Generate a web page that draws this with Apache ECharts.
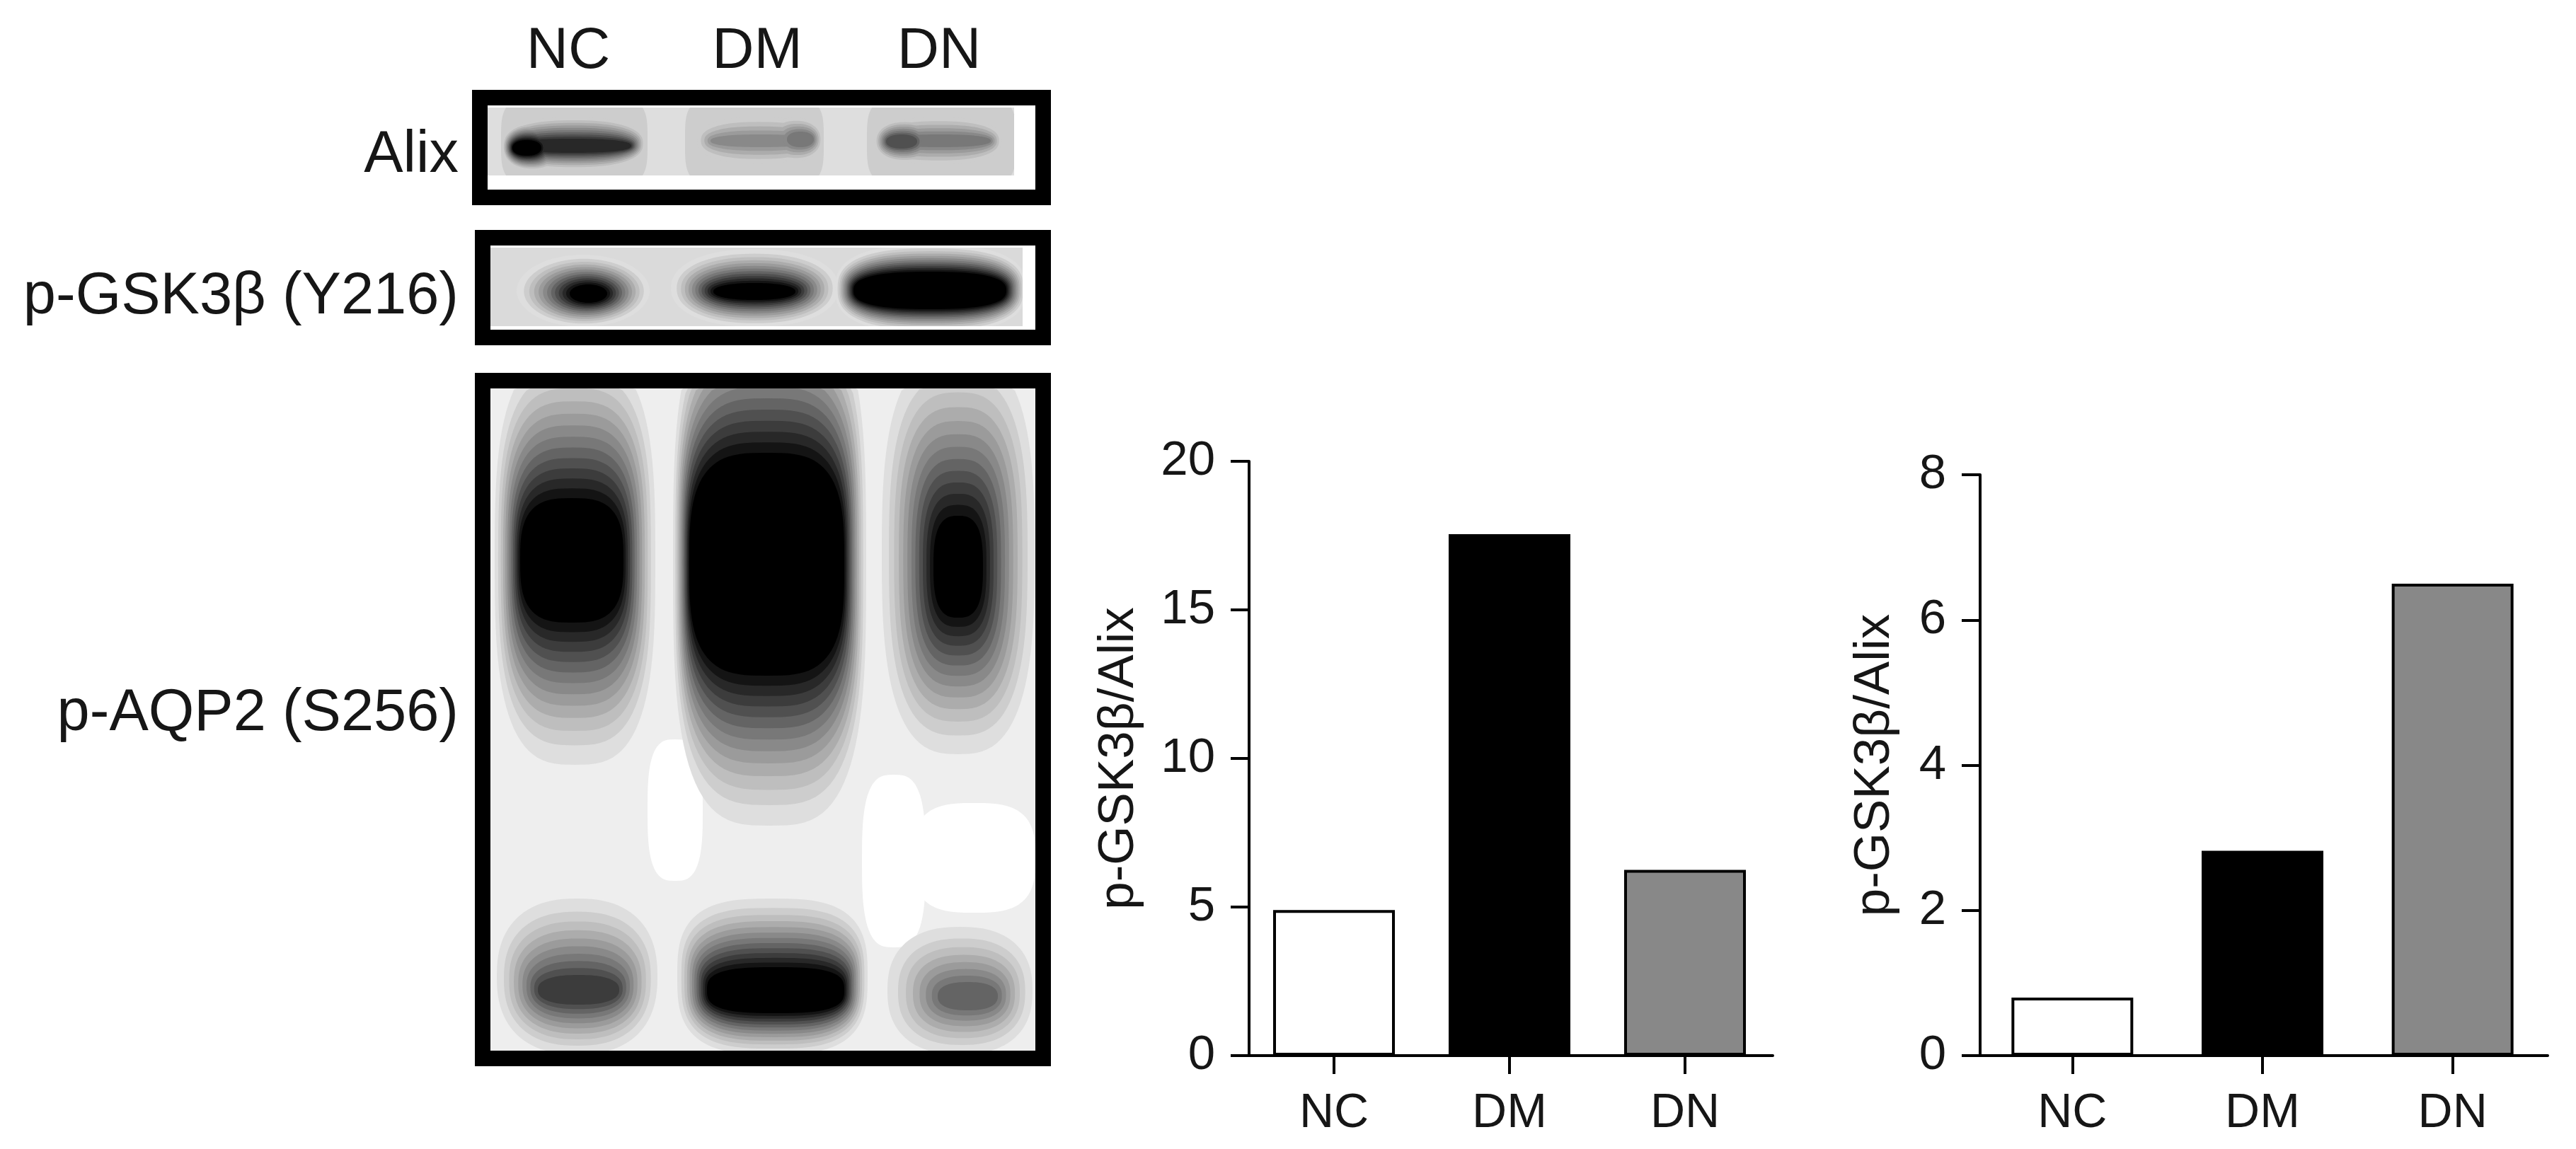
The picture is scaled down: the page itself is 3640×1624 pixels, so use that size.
<!DOCTYPE html>
<html>
<head>
<meta charset="utf-8">
<style>html,body{margin:0;padding:0;background:#fff}#c{width:3640px;height:1624px}</style>
<script src="https://cdn.jsdelivr.net/npm/echarts@6/dist/echarts.min.js"></script>
</head>
<body>
<div id="c"></div>
<script>
const categories = ['NC', 'DM', 'DN'];
const leftValues = [4.9, 17.55, 6.25];
const rightValues = [0.8, 2.82, 6.5];
const barFills = ['#ffffff', '#000000', '#888888'];
const yAxisTitle = 'p-GSK3β/Alix';
const blotLabels = ['Alix', 'p-GSK3β (Y216)', 'p-AQP2 (S256)'];

const INK = '#161616';
const FONT = '"Liberation Sans", Arial, sans-serif';

/* Blot panels: illustrative artwork, posterised grey contours like the source image.
   Blob = [outer x0,x1,y0,y1, inner x0,x1,y0,y1, darkest grey, squareness] */
const greyLevels = [222, 205, 190, 172, 155, 137, 120, 100, 80, 60, 40, 20, 0];
const panels = [
  { frame: [667, 1485, 127, 290], gel: [688, 1433, 152, 248], bg: 222, patches: [], blobs: [
    [708, 915, 132, 268, 708, 915, 132, 268, 205, 4],
    [968, 1164, 132, 268, 968, 1164, 132, 268, 205, 4],
    [1225, 1436, 132, 268, 1225, 1436, 132, 268, 205, 4],
    [708, 915, 160, 244, 726, 892, 196, 216, 40, 2.4],
    [708, 800, 170, 244, 724, 765, 198, 220, 0, 2.2],
    [978, 1162, 156, 240, 1004, 1146, 190, 208, 125, 2.4],
    [1075, 1166, 160, 234, 1112, 1150, 186, 208, 105, 2.2],
    [1230, 1420, 158, 240, 1256, 1400, 190, 208, 120, 2.4],
    [1232, 1330, 164, 234, 1252, 1296, 190, 210, 65, 2.2]
  ]},
  { frame: [671, 1485, 325, 488], gel: [692, 1445, 350, 461], bg: 218, patches: [], blobs: [
    [730, 918, 360, 462, 805, 858, 402, 428, 0, 2],
    [948, 1185, 352, 462, 1008, 1124, 400, 424, 0, 2.2],
    [1180, 1450, 346, 470, 1206, 1422, 384, 437, 0, 2.6]
  ]},
  { frame: [671, 1485, 527, 1507], gel: [693, 1463, 549, 1486], bg: 238,
    patches: [[915, 993, 1045, 1245], [1218, 1308, 1095, 1339], [1290, 1463, 1135, 1290]],
    blobs: [
    [699, 926, 440, 800, 699, 926, 440, 800, 238, 3],
    [699, 926, 500, 1081, 735, 881, 704, 880, 0, 3],
    [951, 1224, 420, 1167, 974, 1193, 640, 955, 0, 3.2],
    [1246, 1462, 500, 1066, 1319, 1389, 729, 873, 0, 2.8],
    [702, 929, 1270, 1490, 760, 875, 1378, 1420, 45, 2.4],
    [957, 1226, 1270, 1490, 999, 1193, 1367, 1432, 0, 3],
    [1254, 1459, 1310, 1490, 1325, 1410, 1388, 1428, 85, 2.4]
  ]}
];

function grey(v) { return 'rgb(' + v + ',' + v + ',' + v + ')'; }
function contour(box, n, clip) {
  const cx = (box[0] + box[1]) / 2, cy = (box[2] + box[3]) / 2;
  const rx = (box[1] - box[0]) / 2, ry = (box[3] - box[2]) / 2;
  const pts = [];
  for (let i = 0; i < 96; i++) {
    const a = i / 96 * Math.PI * 2, c = Math.cos(a), s = Math.sin(a);
    const x = cx + rx * Math.sign(c) * Math.pow(Math.abs(c), 2 / n);
    const y = cy + ry * Math.sign(s) * Math.pow(Math.abs(s), 2 / n);
    pts.push([Math.min(clip[1], Math.max(clip[0], x)), Math.min(clip[3], Math.max(clip[2], y))]);
  }
  return pts;
}
function panelGraphics(p) {
  const els = [];
  const f = p.frame, g = p.gel;
  els.push({ type: 'rect', silent: true, shape: { x: f[0], y: f[2], width: f[1] - f[0], height: f[3] - f[2] }, style: { fill: '#fff' } });
  els.push({ type: 'rect', silent: true, shape: { x: g[0], y: g[2], width: g[1] - g[0], height: g[3] - g[2] }, style: { fill: grey(p.bg) } });
  p.patches.forEach(b => els.push({ type: 'polygon', silent: true, shape: { points: contour(b, 3, g) }, style: { fill: '#fff' } }));
  greyLevels.filter(l => l < p.bg + 5).forEach(level => {
    p.blobs.forEach(b => {
      const usable = greyLevels.filter(l => l < p.bg + 5 && l >= b[8]);
      const idx = usable.indexOf(level);
      if (idx < 0) return;
      const t = usable.length > 1 ? Math.pow(idx / (usable.length - 1), 0.8) : 0;
      const box = [0, 1, 2, 3].map(i => b[i] + (b[i + 4] - b[i]) * t);
      els.push({ type: 'polygon', silent: true, shape: { points: contour(box, b[9], g) }, style: { fill: grey(level) } });
    });
  });
  const w = 22;
  els.push({ type: 'rect', silent: true, shape: { x: f[0] + w / 2, y: f[2] + w / 2, width: f[1] - f[0] - w, height: f[3] - f[2] - w }, style: { fill: 'none', stroke: '#000', lineWidth: w } });
  return els;
}
function label(text, x, y, align, size) {
  return { type: 'text', silent: true, x: x, y: y, style: { text: text, fill: INK, font: size + 'px ' + FONT, align: align, verticalAlign: 'middle' } };
}
const laneLabelX = [803, 1070, 1327];
const rowLabelY = [220, 420, 1009];
const graphics = [];
panels.forEach(p => panelGraphics(p).forEach(e => graphics.push(e)));
categories.forEach((c, i) => graphics.push(label(c, laneLabelX[i], 73, 'center', 82)));
blotLabels.forEach((t, i) => graphics.push(label(t, 648, rowLabelY[i], 'right', 83)));

function yAxis(gridIndex, max, interval, nameGap) {
  return {
    type: 'value', gridIndex, min: 0, max, interval, offset: -4,
    name: yAxisTitle, nameLocation: 'middle', nameRotate: 90, nameGap,
    nameTextStyle: { fontFamily: FONT, fontSize: 71, color: INK },
    splitLine: { show: false },
    axisLine: { show: true, lineStyle: { color: '#000', width: 4 } },
    axisTick: { show: true, length: 26, lineStyle: { color: '#000', width: 4 } },
    axisLabel: { margin: 48, fontFamily: FONT, fontSize: 69, color: INK }
  };
}
function xAxis(gridIndex) {
  return {
    type: 'category', gridIndex, data: categories,
    axisLine: { show: true, lineStyle: { color: '#000', width: 4 } },
    axisTick: { show: true, alignWithLabel: true, length: 26, lineStyle: { color: '#000', width: 4 } },
    axisLabel: { margin: 48, fontFamily: FONT, fontSize: 68, color: INK }
  };
}
function bars(axisIndex, values, name) {
  return {
    type: 'bar', name, xAxisIndex: axisIndex, yAxisIndex: axisIndex, barWidth: 172, animation: false,
    data: values.map((v, i) => ({ value: v, itemStyle: { color: barFills[i], borderColor: '#000', borderWidth: 4 } }))
  };
}

const chart = echarts.init(document.getElementById('c'), null, { renderer: 'canvas' });
chart.setOption({
  animation: false,
  backgroundColor: '#ffffff',
  grid: [
    { left: 1761, top: 652, width: 744, height: 840 },
    { left: 2794, top: 671, width: 806, height: 821 }
  ],
  xAxis: [xAxis(0), xAxis(1)],
  yAxis: [yAxis(0, 20, 5, 148), yAxis(1, 8, 2, 113)],
  series: [bars(0, leftValues, 'Left panel'), bars(1, rightValues, 'Right panel')],
  graphic: { elements: graphics }
});
</script>
</body>
</html>
